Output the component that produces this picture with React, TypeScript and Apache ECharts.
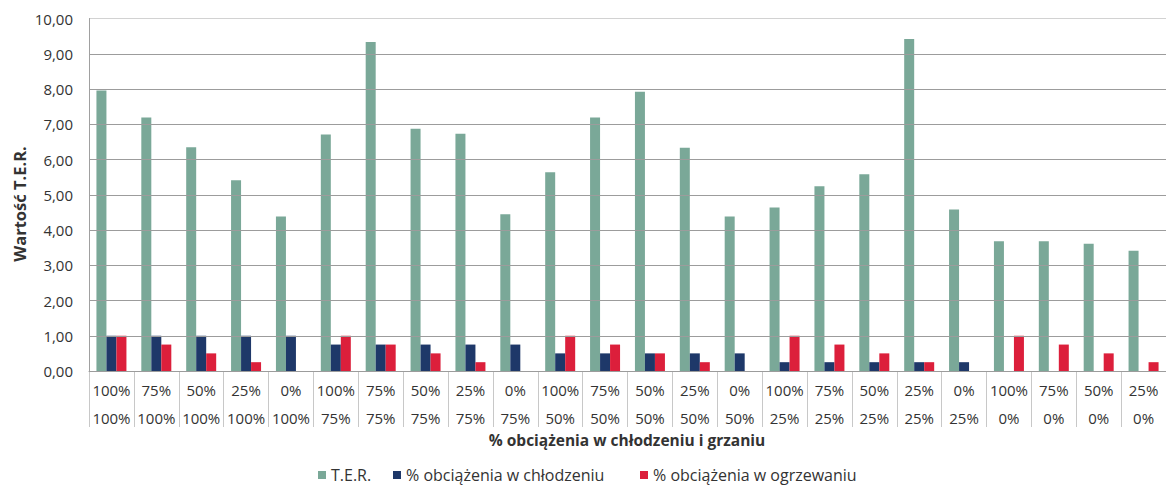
import React, { useEffect, useRef } from "react";
import * as echarts from "echarts";

const heatingRow = ["100%", "75%", "50%", "25%", "0%", "100%", "75%", "50%", "25%", "0%", "100%", "75%", "50%", "25%", "0%", "100%", "75%", "50%", "25%", "0%", "100%", "75%", "50%", "25%"];
const coolingRow = ["100%", "100%", "100%", "100%", "100%", "75%", "75%", "75%", "75%", "75%", "50%", "50%", "50%", "50%", "50%", "25%", "25%", "25%", "25%", "25%", "0%", "0%", "0%", "0%"];
const terValues = [7.96, 7.19, 6.35, 5.41, 4.38, 6.71, 9.33, 6.87, 6.73, 4.45, 5.64, 7.19, 7.92, 6.33, 4.38, 4.64, 5.24, 5.58, 9.42, 4.58, 3.68, 3.68, 3.61, 3.41];
const coolingValues = [1, 1, 1, 1, 1, 0.75, 0.75, 0.75, 0.75, 0.75, 0.5, 0.5, 0.5, 0.5, 0.5, 0.25, 0.25, 0.25, 0.25, 0.25, 0, 0, 0, 0];
const heatingValues = [1, 0.75, 0.5, 0.25, 0, 1, 0.75, 0.5, 0.25, 0, 1, 0.75, 0.5, 0.25, 0, 1, 0.75, 0.5, 0.25, 0, 1, 0.75, 0.5, 0.25];
const seriesNames = ["T.E.R.", "% obciążenia w chłodzeniu", "% obciążenia w ogrzewaniu"];
const xTitle = "% obciążenia w chłodzeniu i grzaniu";
const yTitle = "Wartość T.E.R.";

const FONT = "'Open Sans', sans-serif";
const TXT = "#333333";
const legendLefts = [318, 393, 640];

export default function App() {
  const ref = useRef<HTMLDivElement>(null);
  useEffect(() => {
    document.body.style.margin = "0";
    const chart = echarts.init(ref.current!, undefined, { renderer: "svg" });
    const categories = heatingRow.map((h, i) => `${h}\n${coolingRow[i]}`);
    const splitColors = Array.from({ length: 11 }, (_, i) => (i === 10 ? "#d2d2d2" : "#9c9c9c"));
    chart.setOption({
      animation: false,
      textStyle: { fontFamily: FONT },
      grid: { left: 89, top: 18.5, width: 1086, height: 352.5, containLabel: false },
      legend: seriesNames.map((n, i) => ({
        left: legendLefts[i],
        top: 467,
        padding: 0,
        icon: "rect",
        itemWidth: 8,
        itemHeight: 8,
        textStyle: { fontSize: 16, color: TXT, fontFamily: FONT },
        data: [n],
      })),
      xAxis: {
        type: "category",
        data: categories,
        axisLine: { show: true, lineStyle: { color: "#a0a0a0", width: 1 } },
        axisTick: { show: true, length: 56, interval: 0, alignWithLabel: false, lineStyle: { color: "#c8c8c8", width: 1 } },
        axisLabel: { interval: 0, fontSize: 15, color: TXT, lineHeight: 28, margin: 5, fontFamily: FONT },
      },
      yAxis: {
        type: "value",
        min: 0,
        max: 10,
        interval: 1,
        z: 3,
        axisLine: { show: true, lineStyle: { color: "#a0a0a0", width: 1 } },
        axisTick: { show: false },
        axisLabel: {
          fontSize: 15,
          color: TXT,
          margin: 16,
          fontFamily: FONT,
          formatter: (v: number) => v.toFixed(2).replace(".", ","),
        },
        splitLine: { show: true, lineStyle: { color: splitColors, width: 1 } },
      },
      graphic: [
        {
          type: "text",
          x: 627,
          y: 440,
          style: { text: xTitle, fontSize: 15.5, fontWeight: "bold", fill: TXT, fontFamily: FONT, align: "center", verticalAlign: "middle" },
        },
        {
          type: "text",
          x: 19.5,
          y: 204,
          rotation: Math.PI / 2,
          style: { text: yTitle, fontSize: 16.5, fontWeight: "bold", fill: TXT, fontFamily: FONT, align: "center", verticalAlign: "middle" },
        },
      ],
      series: [
        { name: seriesNames[0], type: "bar", data: terValues, barWidth: 10, barGap: "0%", itemStyle: { color: "#7aa898" } },
        { name: seriesNames[1], type: "bar", data: coolingValues, barWidth: 10, barGap: "0%", itemStyle: { color: "#1e3869" } },
        { name: seriesNames[2], type: "bar", data: heatingValues, barWidth: 10, barGap: "0%", itemStyle: { color: "#dc1f3b" } },
      ],
    });
    return () => chart.dispose();
  }, []);
  return <div ref={ref} style={{ width: 1166, height: 486 }} />;
}
